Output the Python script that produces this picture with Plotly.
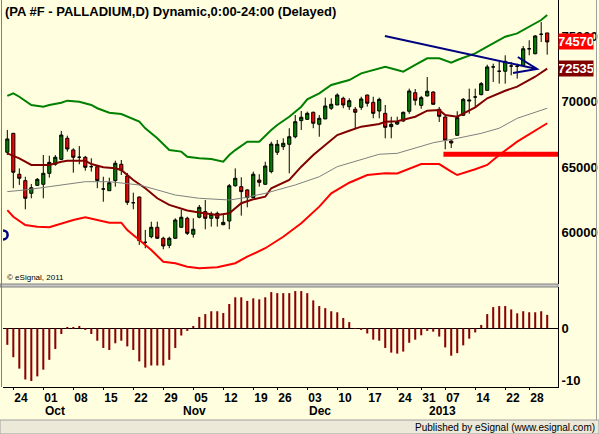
import plotly.graph_objects as go
import pandas as pd

# ---------------- data ----------------
holidays = ["2012-11-22", "2012-12-25", "2013-01-01", "2013-01-21"]
dates = [d.strftime("%Y-%m-%d") for d in pd.bdate_range("2012-09-21", "2013-01-31")
         if d.strftime("%Y-%m-%d") not in holidays]

opens = [66130, 67580, 64450, 63960, 62990, 63600, 63680, 64520, 65210, 65590,
         67200, 66310, 65750, 65750, 65030, 65030, 63320, 63190, 63960, 65210,
         64320, 62270, 62710, 59240, 59670, 60390, 59550, 59010, 59550, 60390,
         61080, 59860, 61160, 61590, 61080, 61460, 60590, 60870, 63570, 63500,
         63250, 62660, 64010, 63680, 64650, 66130, 66560, 66740, 67320, 68550,
         68650, 69190, 68270, 68680, 69500, 69750, 70260, 69620, 69420, 69570,
         70510, 69950, 69290, 69110, 68090, 68290, 68520, 69270, 70690, 69720,
         70440, 70740, 69420, 68830, 66990, 67430, 68960, 70050, 70360, 70540,
         70870, 72660, 72330, 72330, 72730, 72710, 72780, 74050, 73670, 75160,
         75260]
highs = [67840, 67610, 64900, 64260, 63700, 64160, 65920, 65870, 65920, 67760,
         67400, 66440, 66610, 65850, 65670, 65100, 64260, 64190, 65490, 65540,
         64550, 63040, 62730, 60190, 60820, 60820, 59670, 59670, 61080, 61720,
         61200, 61080, 62100, 62480, 61590, 61590, 61330, 63700, 64900, 64220,
         63300, 64650, 64450, 65410, 66940, 67070, 67200, 67970, 68980, 69290,
         69240, 69240, 68980, 70310, 70260, 70640, 70380, 70260, 69600, 70380,
         70530, 70380, 70310, 69750, 68850, 68850, 69240, 71000, 70970, 70440,
         71890, 70800, 69600, 68880, 67050, 69270, 70280, 71000, 71000, 71510,
         72830, 72910, 73040, 73550, 73040, 72910, 74260, 74700, 75100, 76100,
         75260]
lows = [65920, 63380, 63630, 61770, 62610, 63550, 62610, 64190, 65100, 65540,
        66180, 64570, 65210, 64720, 64650, 63380, 62350, 63170, 63500, 64390,
        62100, 61770, 59040, 58790, 59550, 59500, 58710, 58790, 59500, 60350,
        59800, 59600, 61080, 60240, 60440, 60440, 60550, 60240, 63500, 61280,
        61920, 62620, 63500, 63650, 64520, 65920, 66310, 64520, 67200, 67840,
        68600, 67970, 67320, 68680, 69370, 69750, 69500, 69370, 67970, 69370,
        69620, 68730, 68730, 67200, 67200, 68220, 68470, 69080, 69720, 69460,
        70400, 69780, 68450, 66360, 66460, 67400, 68910, 69080, 69590, 70490,
        70850, 71510, 71380, 71380, 72020, 71760, 72760, 73550, 73630, 74570,
        73600]
closes = [67150, 64600, 64140, 62610, 63420, 64060, 64520, 65360, 65750, 67450,
          66380, 65750, 65750, 64980, 65030, 63960, 63320, 63800, 65290, 64750,
          62300, 62270, 59370, 59240, 60390, 59550, 58960, 59550, 60950, 61160,
          59930, 60240, 61920, 61080, 61390, 61080, 60770, 63570, 64140, 63120,
          62660, 64450, 63830, 65080, 66760, 66740, 66820, 67320, 68470, 68810,
          69110, 68350, 68730, 69670, 69800, 70510, 69750, 70080, 69190, 70210,
          69880, 69110, 70180, 68040, 68270, 68470, 69190, 70820, 70110, 70310,
          70800, 69800, 68880, 67050, 66840, 68780, 70180, 70120, 70360, 71380,
          72660, 72660, 72330, 73090, 72730, 72710, 74050, 74050, 75030, 75160,
          74570]

# upper band (green), read at these bar positions
upper_idx = [0, 1, 2, 4, 6, 7, 9, 10, 12, 14, 15, 17, 19, 20, 22, 23, 25, 27, 29, 30,
             32, 34, 35, 36, 37, 38, 40, 42, 44, 45, 47, 49, 50, 52, 54, 57, 59, 61,
             63, 65, 66, 68, 70, 72, 74, 75, 78, 80, 83, 85, 87, 89, 90]
upper_val = [70440, 70640, 70380, 69750, 69620, 69750, 69920, 70080, 70000, 69750,
             69500, 69160, 69060, 68850, 68470, 67960, 67200, 66300, 66180, 65790,
             65670, 65620, 65540, 65410, 65920, 66300, 66940, 66940, 67830, 68220,
             68850, 69620, 70180, 70640, 71280, 71660, 72170, 72430, 72680, 72430,
             72300, 72810, 73320, 73320, 72980, 73190, 73700, 74210, 74970, 75230,
             75740, 76250, 76630]
# middle average (dark red)
mid_idx = [0, 2, 4, 7, 9, 10, 13, 14, 16, 18, 19, 21, 23, 25, 27, 29, 30, 32, 35, 37,
           39, 41, 43, 44, 47, 49, 51, 53, 55, 57, 59, 62, 63, 65, 68, 70, 72, 73,
           75, 78, 80, 83, 85, 88, 90]
mid_val = [66050, 65670, 65160, 65160, 65410, 65490, 65490, 65230, 64980, 64910,
           64780, 64010, 63380, 62610, 62100, 61850, 61670, 61530, 61330, 61460,
           62230, 62530, 62730, 63380, 64010, 65030, 65920, 66690, 67450, 67780,
           68090, 68290, 68470, 68510, 68850, 69310, 69370, 68980, 68850, 69570,
           70260, 70840, 71150, 71910, 72535]
# slow average (grey)
slow_idx = [0, 3, 7, 10, 13, 17, 20, 22, 25, 28, 32, 37, 39, 43, 48, 52, 55, 59, 62,
            65, 68, 71, 75, 79, 82, 85, 90]
slow_val = [63120, 63250, 63500, 63680, 63880, 63880, 63760, 63630, 63250, 62860,
            62610, 62480, 62610, 62990, 63630, 64260, 65030, 65540, 65980, 66050,
            66430, 66860, 67200, 67580, 67970, 68730, 69500]
# lower band (red)
lower_idx = [0, 1, 3, 5, 7, 9, 11, 13, 15, 17, 19, 20, 22, 24, 26, 28, 30, 32, 35, 38,
             40, 43, 46, 49, 52, 54, 57, 60, 63, 65, 69, 72, 74, 75, 78, 80, 82, 85, 90]
lower_val = [61710, 61200, 60570, 60440, 60390, 60700, 60950, 61160, 60950, 60740,
             60740, 60180, 59420, 58650, 57760, 57640, 57380, 57250, 57330, 57640,
             58140, 58790, 59670, 60700, 61970, 62990, 63800, 64390, 64520, 64510,
             65230, 65230, 64650, 64390, 64830, 65160, 65920, 66940, 68350]

# momentum histogram (lower pane)
osc = [-3.2, -5.6, -7.8, -9.9, -10.2, -9.3, -8.0, -6.1, -4.0, -1.1,
       0.25, 0.25, 0.45, -0.25, -1.1, -2.4, -3.8, -4.2, -2.9, -2.4,
       -3.5, -4.2, -6.4, -7.6, -7.2, -7.2, -7.2, -6.1, -3.8, -1.4,
       -0.5, 0.45, 2.2, 2.75, 3.3, 3.3, 2.95, 4.7, 6.0, 6.0,
       5.3, 5.8, 5.6, 6.0, 7.0, 6.8, 6.8, 6.8, 7.2, 7.2,
       6.8, 5.4, 4.3, 3.9, 3.3, 3.1, 2.0, 1.2, 0.05, -0.2,
       -1.0, -2.2, -2.4, -3.8, -4.7, -4.9, -4.5, -2.8, -2.2, -1.35,
       -0.5, -0.65, -1.6, -3.7, -5.3, -4.8, -3.3, -2.0, -0.8, 0.65,
       2.75, 4.1, 4.3, 4.3, 3.65, 2.9, 3.3, 3.1, 3.1, 3.3, 2.6]

# axis ticks
tick_dates = ["2012-09-24", "2012-10-01", "2012-10-08", "2012-10-15", "2012-10-22",
              "2012-10-29", "2012-11-05", "2012-11-12", "2012-11-19", "2012-11-26",
              "2012-12-03", "2012-12-10", "2012-12-17", "2012-12-24", "2012-12-31",
              "2013-01-07", "2013-01-14", "2013-01-22", "2013-01-28"]
tick_text = ["24", "01", "08", "15", "22", "29", "05", "12", "19", "26",
             "03", "10", "17", "24", "31", "07", "14", "22", "28"]
month_dates = ["2012-10-01", "2012-11-01", "2012-12-03", "2013-01-02"]
month_text = ["Oct", "Nov", "Dec", "2013"]
price_ticks = [60000, 65000, 70000, 75000]

# drawings (bar-position, price)
trend_x = [62.95, 88.3]
trend_y = [75030, 72500]
arrow_x = [85.1, 88.3, 84.3]
arrow_y = [73420, 72500, 72200]
support_x0 = 72.7
support_price = 65975
marker_x = [-1.5, 0.05]
marker_y = [59460, 60150]
last_close = closes[-1]
last_mid = mid_val[-1]

# ---------------- layout helpers ----------------
W, H = 599, 434
L, R = 3, 41
PW = W - L - R


def px(xp):
    return (xp - L) / PW


def py(yp):
    return 1 - yp / H


BG = "#FFFFE0"
FONT = "Liberation Sans Narrow, Liberation Sans, Arial, sans-serif"

fig = go.Figure()

fig.add_trace(go.Candlestick(
    x=dates, open=opens, high=highs, low=lows, close=closes,
    increasing=dict(line=dict(color="black", width=1), fillcolor="#008000"),
    decreasing=dict(line=dict(color="black", width=1), fillcolor="#FF0000"),
    whiskerwidth=0, xaxis="x", yaxis="y", showlegend=False, hoverinfo="skip"))

for idx, val, col, w in [(upper_idx, upper_val, "#008000", 2),
                         (mid_idx, mid_val, "#800000", 2),
                         (slow_idx, slow_val, "#808080", 1),
                         (lower_idx, lower_val, "#FF0000", 2)]:
    fig.add_trace(go.Scatter(x=[dates[i] for i in idx], y=val, mode="lines",
                             line=dict(color=col, width=w), xaxis="x", yaxis="y",
                             showlegend=False, hoverinfo="skip"))

fig.add_trace(go.Bar(x=dates, y=osc, marker=dict(color="#8B0000", line=dict(width=0)),
                     width=0.34, xaxis="x2", yaxis="y2", showlegend=False,
                     hoverinfo="skip"))

n = len(dates)
xr = [-0.72, n + 0.8]
P_TOP, P_BOT = 0, 284
O_TOP, O_BOT = 287, 387
ppk = 76.51            # price units per pixel in the price pane
upk = 1 / 5.17         # oscillator units per pixel
p_hi = 70000 + (101.7 - P_TOP) * ppk
p_lo = 70000 - (P_BOT - 101.7) * ppk
o_hi = (328.3 - O_TOP) * upk
o_lo = -(O_BOT - 328.3) * upk

fig.update_layout(
    width=W, height=H,
    margin=dict(l=L, r=R, t=0, b=0),
    paper_bgcolor=BG, plot_bgcolor=BG,
    boxgap=0.25,
    xaxis=dict(type="category", categoryorder="array", categoryarray=dates,
               domain=[0, 1], anchor="y", range=xr, showticklabels=False,
               showgrid=False, zeroline=False, rangeslider=dict(visible=False),
               ticks=""),
    xaxis2=dict(type="category", categoryorder="array", categoryarray=dates,
                domain=[0, 1], anchor="y2", range=xr, matches="x",
                tickmode="array", tickvals=tick_dates, ticktext=tick_text,
                ticklabelposition="outside right",
                tickfont=dict(family=FONT, size=12, color="black", weight="bold"),
                ticks="outside", ticklen=2, tickcolor="black",
                showline=True, linecolor="black", linewidth=1,
                showgrid=False, zeroline=False),
    yaxis=dict(domain=[py(P_BOT), py(P_TOP)], range=[p_lo, p_hi], side="right",
               anchor="x", tickmode="array", tickvals=price_ticks,
               ticktext=[str(v) for v in price_ticks],
               tickfont=dict(family=FONT, size=13, color="black", weight="bold"),
               showgrid=False, zeroline=False, showline=True, linecolor="black",
               linewidth=1, ticks=""),
    yaxis2=dict(domain=[py(O_BOT), py(O_TOP)], range=[o_lo, o_hi], side="right",
                anchor="x2", tickmode="array", tickvals=[0, -10],
                ticktext=["0", "-10"],
                tickfont=dict(family=FONT, size=13, color="black", weight="bold"),
                showgrid=False, zeroline=True, zerolinecolor="black",
                zerolinewidth=1, showline=True, linecolor="black", linewidth=1,
                ticks=""),
)

shapes = []
# pane separator
shapes.append(dict(type="rect", xref="paper", yref="paper", x0=px(0), x1=px(558),
                   y0=py(O_TOP), y1=py(P_BOT), fillcolor="#C8C8C8",
                   line=dict(color="#808080", width=1), layer="above"))
# left and right frame borders
shapes.append(dict(type="line", xref="paper", yref="paper", x0=px(1.5), x1=px(1.5),
                   y0=py(O_BOT), y1=py(0), line=dict(color="#808080", width=1)))
shapes.append(dict(type="line", xref="paper", yref="paper", x0=px(596.5), x1=px(596.5),
                   y0=py(420), y1=py(0), line=dict(color="#A0A0A0", width=1)))
# published strip
shapes.append(dict(type="rect", xref="paper", yref="paper", x0=px(0), x1=px(599),
                   y0=py(434), y1=py(420), fillcolor="#ECE9D8",
                   line=dict(color="#A0A0A0", width=1), layer="above"))
# trend line with open arrow head
shapes.append(dict(type="line", xref="x", yref="y", x0=trend_x[0], y0=trend_y[0],
                   x1=trend_x[1], y1=trend_y[1], line=dict(color="#000080", width=2)))
shapes.append(dict(type="path", xref="x", yref="y",
                   path="M {},{} L {},{} L {},{}".format(arrow_x[0], arrow_y[0],
                                                         arrow_x[1], arrow_y[1],
                                                         arrow_x[2], arrow_y[2]),
                   line=dict(color="#000080", width=2)))
# support line
shapes.append(dict(type="line", xref="x", yref="y", x0=support_x0, y0=support_price,
                   x1=n + 0.8, y1=support_price, line=dict(color="#FF0000", width=5)))
# small drawing marker at the left edge
shapes.append(dict(type="circle", xref="x", yref="y", x0=marker_x[0], x1=marker_x[1],
                   y0=marker_y[0], y1=marker_y[1], line=dict(color="#000080", width=2.5)))
fig.update_layout(shapes=shapes)

ann = []
ann.append(dict(text="(PA #F - PALLADIUM,D) Dynamic,0:00-24:00 (Delayed)",
                x=px(3), y=py(2), xref="paper", yref="paper", xanchor="left",
                yanchor="top", showarrow=False,
                font=dict(family="Liberation Sans, Arial", size=13, color="black",
                          weight="bold")))
ann.append(dict(text="© eSignal, 2011", x=px(5), y=py(277), xref="paper", yref="paper",
                xanchor="left", yanchor="middle", showarrow=False,
                font=dict(family="Liberation Sans, Arial", size=8, color="black")))
ann.append(dict(text="Published by eSignal (www.esignal.com)", x=px(597), y=py(427),
                xref="paper", yref="paper", xanchor="right", yanchor="middle",
                showarrow=False,
                font=dict(family="Liberation Sans, Arial", size=10, color="black")))
for d, t in zip(month_dates, month_text):
    ann.append(dict(text=t, x=d, y=py(411), xref="x2", yref="paper", xanchor="left",
                    yanchor="middle", showarrow=False,
                    font=dict(family=FONT, size=12, color="black", weight="bold")))
# last-value labels
ann.append(dict(text=str(last_close), x=1, y=last_close, xref="paper", yref="y",
                xanchor="left", yanchor="middle", showarrow=False, bgcolor="#FF0000",
                width=34, borderpad=0,
                font=dict(family=FONT, size=13, color="white", weight="bold")))
ann.append(dict(text=str(last_mid), x=1, y=last_mid, xref="paper", yref="y",
                xanchor="left", yanchor="middle", showarrow=False, bgcolor="#800000",
                width=34, borderpad=0,
                font=dict(family=FONT, size=13, color="white", weight="bold")))
fig.update_layout(annotations=ann)

fig.write_html("out.html")
